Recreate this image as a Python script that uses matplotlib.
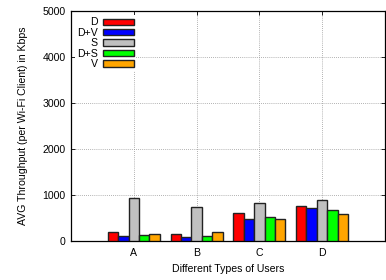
import numpy as np
import matplotlib
matplotlib.use("Agg")
import matplotlib.pyplot as plt

plt.rcParams['font.family'] = ['Liberation Sans', 'DejaVu Sans']

# user types on the x axis
user_types = ['A', 'B', 'C', 'D']

# avg throughput (Kbps) per series
series_names = ['D', 'D+V', 'S', 'D+S', 'V']
series_colors = ['#ff0000', '#0000ff', '#c0c0c0', '#00ff00', '#ffa500']
thr_D = [200, 145, 610, 755]
thr_DV = [120, 85, 490, 730]
thr_S = [930, 745, 820, 890]
thr_DS = [130, 115, 515, 675]
thr_V = [145, 195, 490, 580]

yticks = [0, 1000, 2000, 3000, 4000, 5000]


def main():
    fig = plt.figure(figsize=(3.86, 2.8), dpi=100)
    ax = fig.add_axes([0.184, 0.139, 0.813, 0.821])
    fs = 7.6

    values = [thr_D, thr_DV, thr_S, thr_DS, thr_V]
    x = np.arange(len(user_types))
    w = 0.166
    n = len(values)
    for i, (vals, name, col) in enumerate(zip(values, series_names, series_colors)):
        off = (i - (n - 1) / 2) * w
        ax.bar(x + off, vals, width=w, color=col, edgecolor='#222222',
               linewidth=1.0, label=name, zorder=3)

    ax.set_xlim(-1, 4)
    ax.set_ylim(0, 5000)
    ax.set_xticks(x)
    ax.set_xticklabels(user_types, fontsize=fs)
    ax.set_yticks(yticks)
    ax.set_yticklabels([str(v) for v in yticks], fontsize=fs)
    ax.tick_params(direction='in', length=3, width=0.6, top=True, right=True)
    ax.tick_params(axis='y', pad=4)
    ax.tick_params(axis='x', pad=5)

    ax.grid(True, color='#999999', linestyle=(0, (1, 1.5)), linewidth=0.6, zorder=0)
    ax.set_axisbelow(True)
    for sp in ax.spines.values():
        sp.set_linewidth(0.9)

    ax.set_xlabel('Different Types of Users', fontsize=fs, labelpad=4)
    ax.set_ylabel('AVG Throughput (per Wi-Fi Client) in Kbps', fontsize=fs, labelpad=10)

    leg = ax.legend(loc='upper left', bbox_to_anchor=(0.013, 0.982), fontsize=fs,
                    markerfirst=False, frameon=True, fancybox=False,
                    handlelength=2.9, handleheight=0.55, handletextpad=0.5,
                    labelspacing=0.04, borderpad=0.2, borderaxespad=0.0)
    leg.get_frame().set_facecolor('white')
    leg.get_frame().set_edgecolor('none')
    leg.get_frame().set_alpha(1.0)

    fig.savefig('out.png', dpi=100)
    plt.close(fig)


if __name__ == "__main__":
    main()
